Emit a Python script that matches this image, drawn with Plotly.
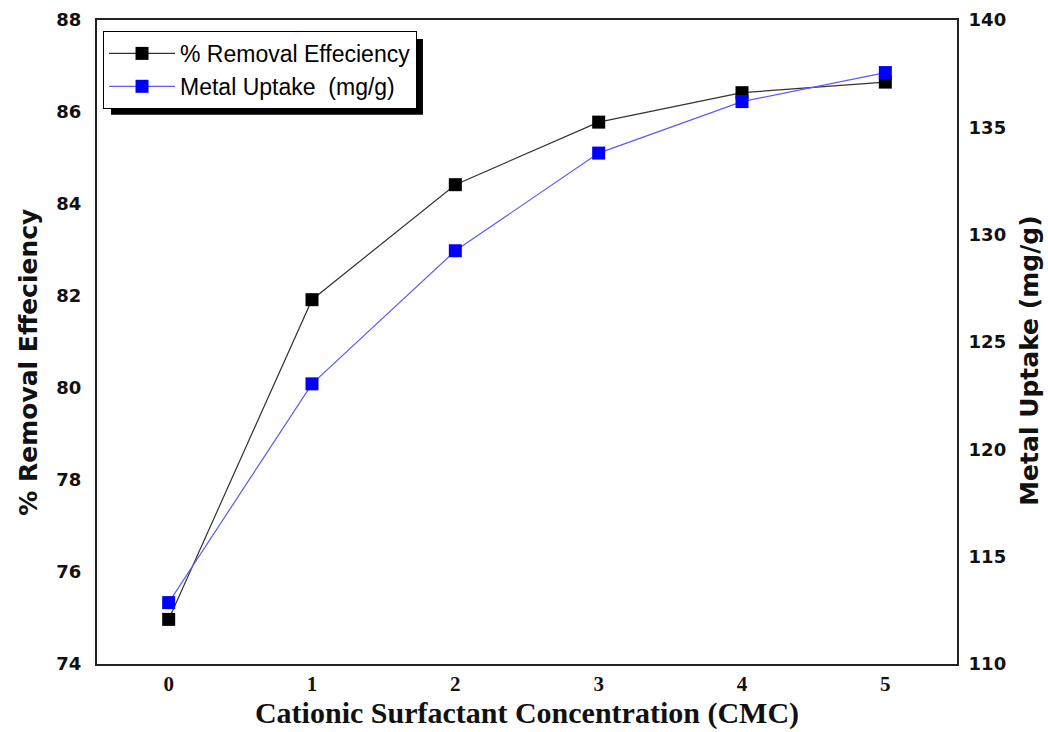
import plotly.graph_objects as go

cmc = [0, 1, 2, 3, 4, 5]
removal_eff = [74.97, 81.92, 84.42, 85.78, 86.42, 86.65]
metal_uptake = [112.86, 123.05, 129.25, 133.80, 136.20, 137.55]

left_ticks = [74, 76, 78, 80, 82, 84, 86, 88]
right_ticks = [110, 115, 120, 125, 130, 135, 140]

fig = go.Figure()
fig.add_trace(go.Scatter(
    x=cmc, y=removal_eff, mode="lines+markers", name="% Removal Effeciency",
    line=dict(color="#333333", width=1.2),
    marker=dict(symbol="square", size=13, color="black"),
    yaxis="y"))
fig.add_trace(go.Scatter(
    x=cmc, y=metal_uptake, mode="lines+markers", name="Metal Uptake  (mg/g)",
    line=dict(color="#5a5aff", width=1.2),
    marker=dict(symbol="square", size=13, color="#0000ff"),
    yaxis="y2"))

axis_font = dict(family="DejaVu Sans", size=18, color="#111111")
title_font = dict(family="DejaVu Sans", size=25, color="#111111")
fig.update_layout(
    width=1048, height=732,
    margin=dict(l=97, r=91, t=20, b=68),
    paper_bgcolor="white", plot_bgcolor="white",
    showlegend=True,
    legend=dict(x=0.007, y=0.983, xanchor="left", yanchor="top",
                bgcolor="white", bordercolor="black", borderwidth=1,
                font=dict(family="Liberation Sans", size=23, color="black"),
                itemwidth=66, tracegroupgap=0),
    xaxis=dict(range=[-0.5, 5.5], tickvals=cmc, ticktext=[f"<b>{v}</b>" for v in cmc],
               showgrid=False, zeroline=False, showline=True, mirror=True,
               linecolor="#222222", linewidth=2, ticks="", automargin=False,
               tickfont=dict(family="Liberation Serif", size=21, color="#111111"),
               title=dict(text="<b>Cationic Surfactant Concentration (CMC)</b>",
                          font=dict(family="Liberation Serif", size=30, color="#111111"),
                          standoff=6)),
    yaxis=dict(range=[74, 88], tickvals=left_ticks,
               ticktext=[f"<b>{v}</b>" for v in left_ticks],
               showgrid=False, zeroline=False, showline=True, mirror=False,
               linecolor="#222222", linewidth=2, ticks="", ticklabelstandoff=10,
               automargin=False, tickfont=axis_font),
    yaxis2=dict(range=[110, 140], tickvals=right_ticks,
                ticktext=[f"<b>{v}</b>" for v in right_ticks],
                overlaying="y", side="right",
                showgrid=False, zeroline=False, showline=True,
                linecolor="#222222", linewidth=2, ticks="", ticklabelstandoff=6,
                automargin=False, tickfont=axis_font),
    annotations=[
        dict(text="<b>% Removal Effeciency</b>", textangle=-90, showarrow=False,
             xref="paper", yref="paper", x=-0.08, y=0.468,
             xanchor="center", yanchor="middle", font=title_font),
        dict(text="<b>Metal Uptake (mg/g)</b>", textangle=-90, showarrow=False,
             xref="paper", yref="paper", x=1.085, y=0.471,
             xanchor="center", yanchor="middle", font=title_font),
    ],
    shapes=[dict(type="rect", xref="paper", yref="paper",
                 x0=0.0163, x1=0.379, y0=0.853, y1=0.9705,
                 fillcolor="black", line=dict(width=0), layer="above")],
)
fig.write_html("out.html")
